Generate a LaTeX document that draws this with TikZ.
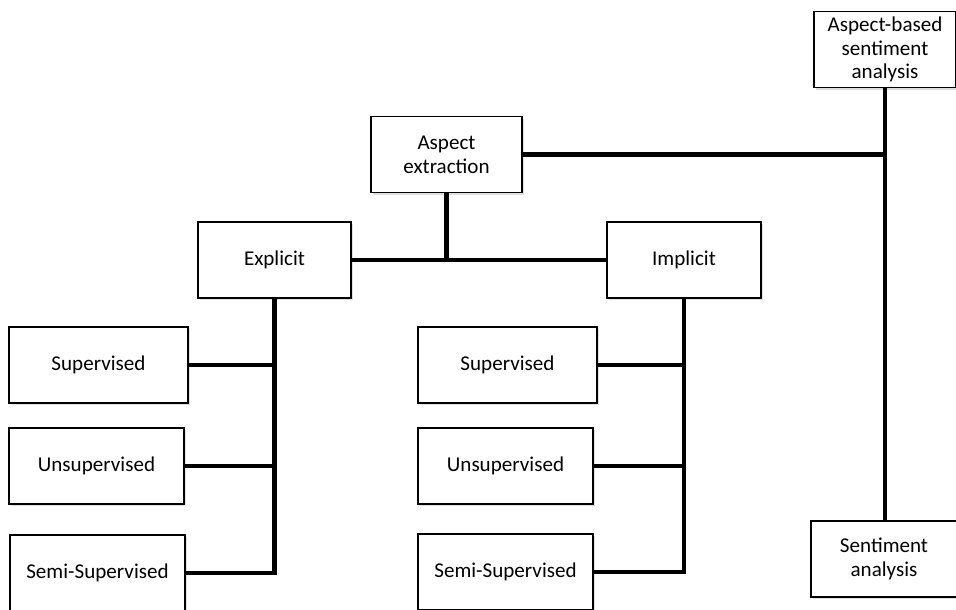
\documentclass[tikz,border=0pt]{standalone}
\usepackage{fontspec}
\setmainfont{Carlito}
\usetikzlibrary{shadows}
\begin{document}
\begin{tikzpicture}[x=0.02cm,y=-0.02cm,
	box/.style={draw,line width=0.8pt,fill=white,align=center,inner sep=1pt,
		minimum height=1.52cm,font=\fontsize{12}{13.5}\selectfont,
		drop shadow={shadow xshift=1.2pt,shadow yshift=-1.2pt,opacity=0.25}},
	link/.style={line width=2.6pt}]
	\clip (0,0) rectangle (956,609);
	\node[box,minimum width=2.84cm] (absa) at (885,49.5) {Aspect-based\\sentiment\\analysis};
	\node[box,minimum width=2.92cm] (sent) at (884,559) {Sentiment\\analysis};
	\node[box,minimum width=3.02cm] (aspect) at (446.5,154.5) {Aspect\\extraction};
	\node[box,minimum width=3.06cm] (expl) at (274.5,260) {Explicit};
	\node[box,minimum width=3.08cm] (impl) at (684,260) {Implicit};
	\node[box,minimum width=3.58cm] (lsup) at (98.5,365) {Supervised};
	\node[box,minimum width=3.5cm] (lunsup) at (96.5,466) {Unsupervised};
	\node[box,minimum width=3.5cm] (lsemi) at (97.5,573) {Semi-Supervised};
	\node[box,minimum width=3.58cm] (msup) at (507.5,365) {Supervised};
	\node[box,minimum width=3.5cm] (munsup) at (505.5,466) {Unsupervised};
	\node[box,minimum width=3.5cm] (msemi) at (505.5,572) {Semi-Supervised};
	% top level
	\draw[link] (absa.south) -- (absa.south |- sent.north);
	\draw[link] (aspect.east) -- (aspect.east -| absa.south);
	\draw[link] (expl.east) -- (impl.west);
	\draw[link] (aspect.south) -- (aspect.south |- expl.east);
	% explicit branch
	\draw[link] (expl.south) -- (expl.south |- lsemi.east) -- (lsemi.east);
	\draw[link] (lsup.east) -- (lsup.east -| expl.south);
	\draw[link] (lunsup.east) -- (lunsup.east -| expl.south);
	% implicit branch
	\draw[link] (impl.south) -- (impl.south |- msemi.east) -- (msemi.east);
	\draw[link] (msup.east) -- (msup.east -| impl.south);
	\draw[link] (munsup.east) -- (munsup.east -| impl.south);
\end{tikzpicture}
\end{document}
